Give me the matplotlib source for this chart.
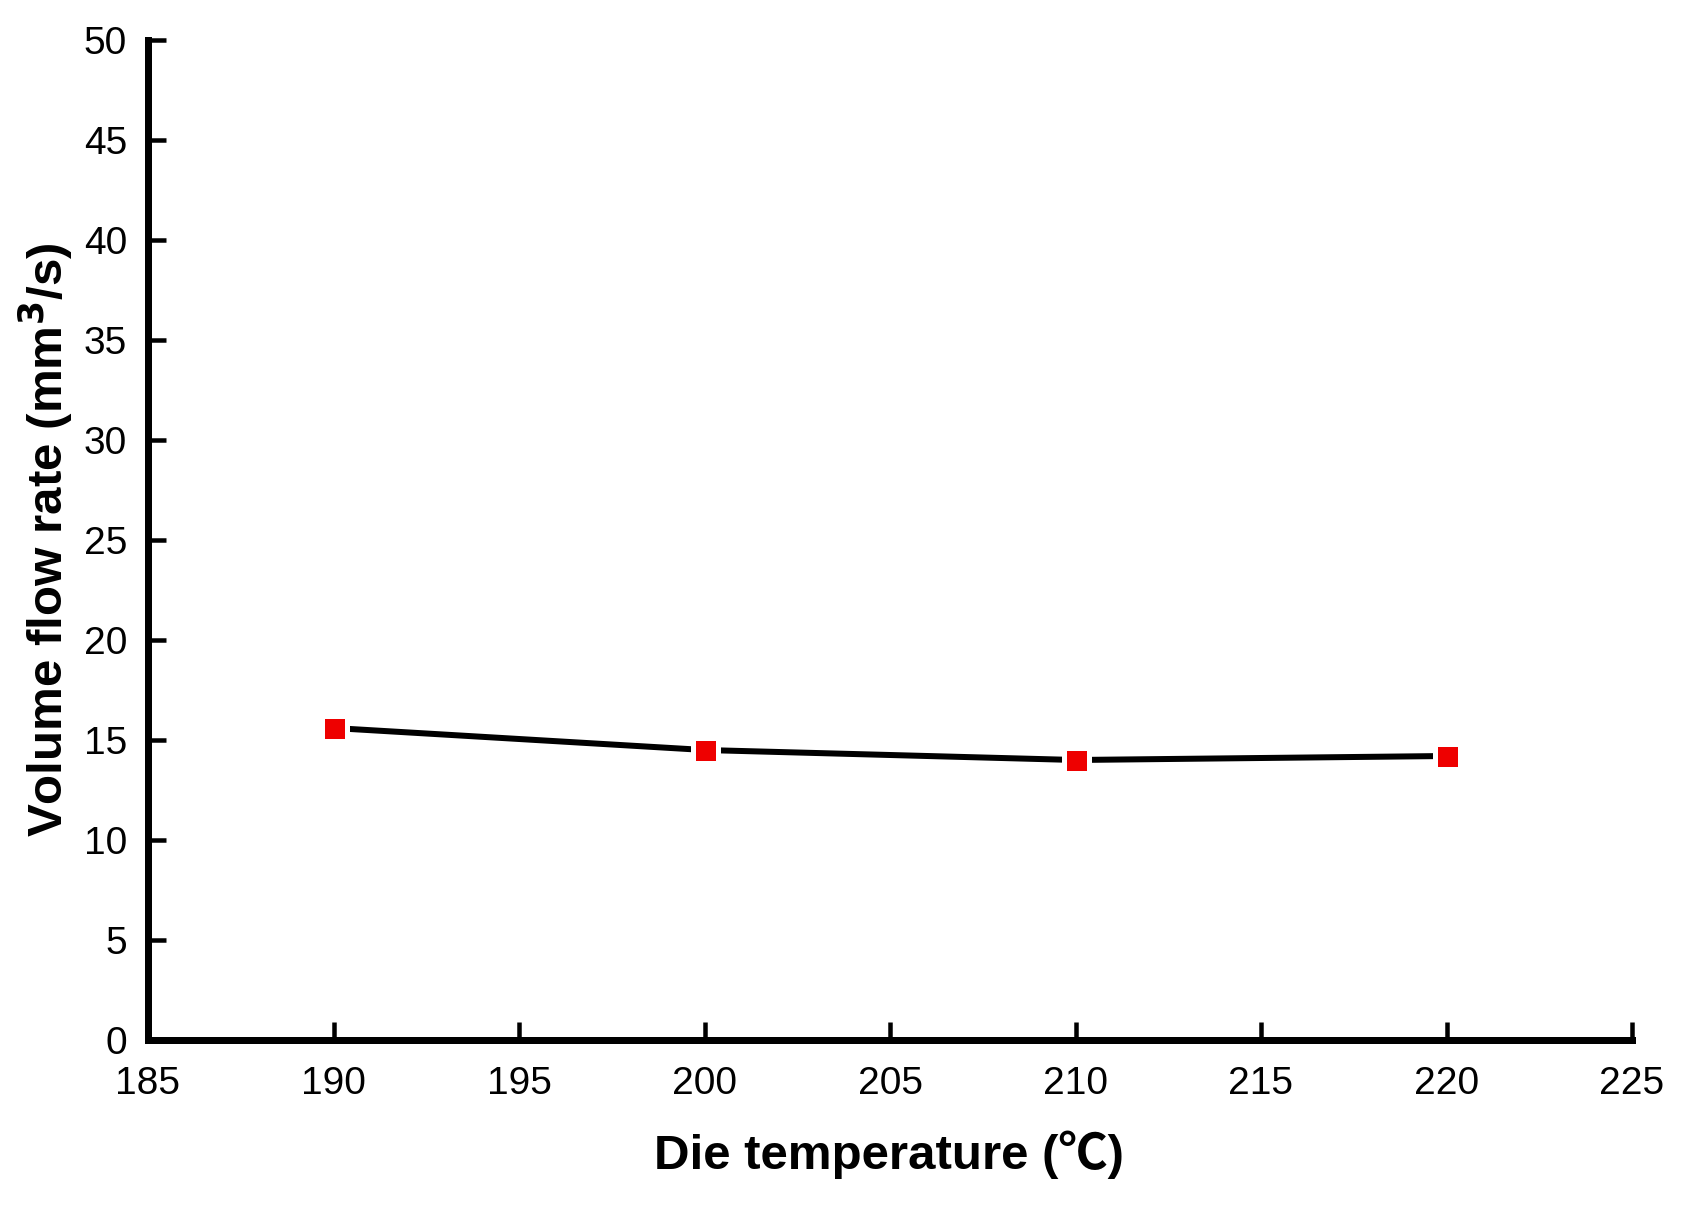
"""Volume flow rate versus die temperature, single series with square markers."""

import matplotlib

matplotlib.use("Agg")
import matplotlib.pyplot as plt

die_temperature = [190, 200, 210, 220]
volume_flow_rate = [15.6, 14.5, 14.0, 14.2]
x_ticks = [185, 190, 195, 200, 205, 210, 215, 220, 225]
y_ticks = [0, 5, 10, 15, 20, 25, 30, 35, 40, 45, 50]

_FONT = ["Liberation Sans", "Noto Sans CJK SC", "DejaVu Sans"]
_PX = 72 / 100  # points per pixel at dpi 100


def main() -> None:
    plt.rcParams["font.family"] = _FONT
    fig = plt.figure(figsize=(16.96, 12.08), dpi=100)
    fig.patch.set_facecolor("white")
    ax = fig.add_axes([148 / 1696, 1 - 1040 / 1208, 1484 / 1696, 1000 / 1208])

    ax.plot(die_temperature, volume_flow_rate, color="black", linewidth=6 * _PX,
            solid_capstyle="round", zorder=2)
    ax.plot(die_temperature, volume_flow_rate, linestyle="none", marker="s",
            markersize=25 * _PX, markerfacecolor="#ee0000",
            markeredgecolor="white", markeredgewidth=5 * _PX, zorder=3)

    ax.set_xlim(185, 225)
    ax.set_ylim(0, 50)
    ax.set_xticks(x_ticks)
    ax.set_yticks(y_ticks)

    for side in ("top", "right"):
        ax.spines[side].set_visible(False)
    for side in ("left", "bottom"):
        ax.spines[side].set_linewidth(7 * _PX)
        ax.spines[side].set_capstyle("projecting")

    ax.tick_params(direction="in", length=18 * _PX, width=4.5 * _PX,
                   labelsize=28, colors="black")
    ax.tick_params(axis="x", pad=19)
    ax.tick_params(axis="y", pad=15)

    ax.set_xlabel("Die temperature (℃)", fontsize=35.5, fontweight="bold")
    ax.set_ylabel("Volume flow rate (mm$^\\mathbf{3}$/s)", fontsize=35.5,
                  fontweight="bold")
    ax.xaxis.label.set_va("center")
    ax.yaxis.label.set_va("center")
    ax.xaxis.set_label_coords(0.499, -0.115)
    ax.yaxis.set_label_coords(-0.069, 0.5)

    fig.savefig("out.png", dpi=100, facecolor="white")
    plt.close(fig)


if __name__ == "__main__":
    main()
